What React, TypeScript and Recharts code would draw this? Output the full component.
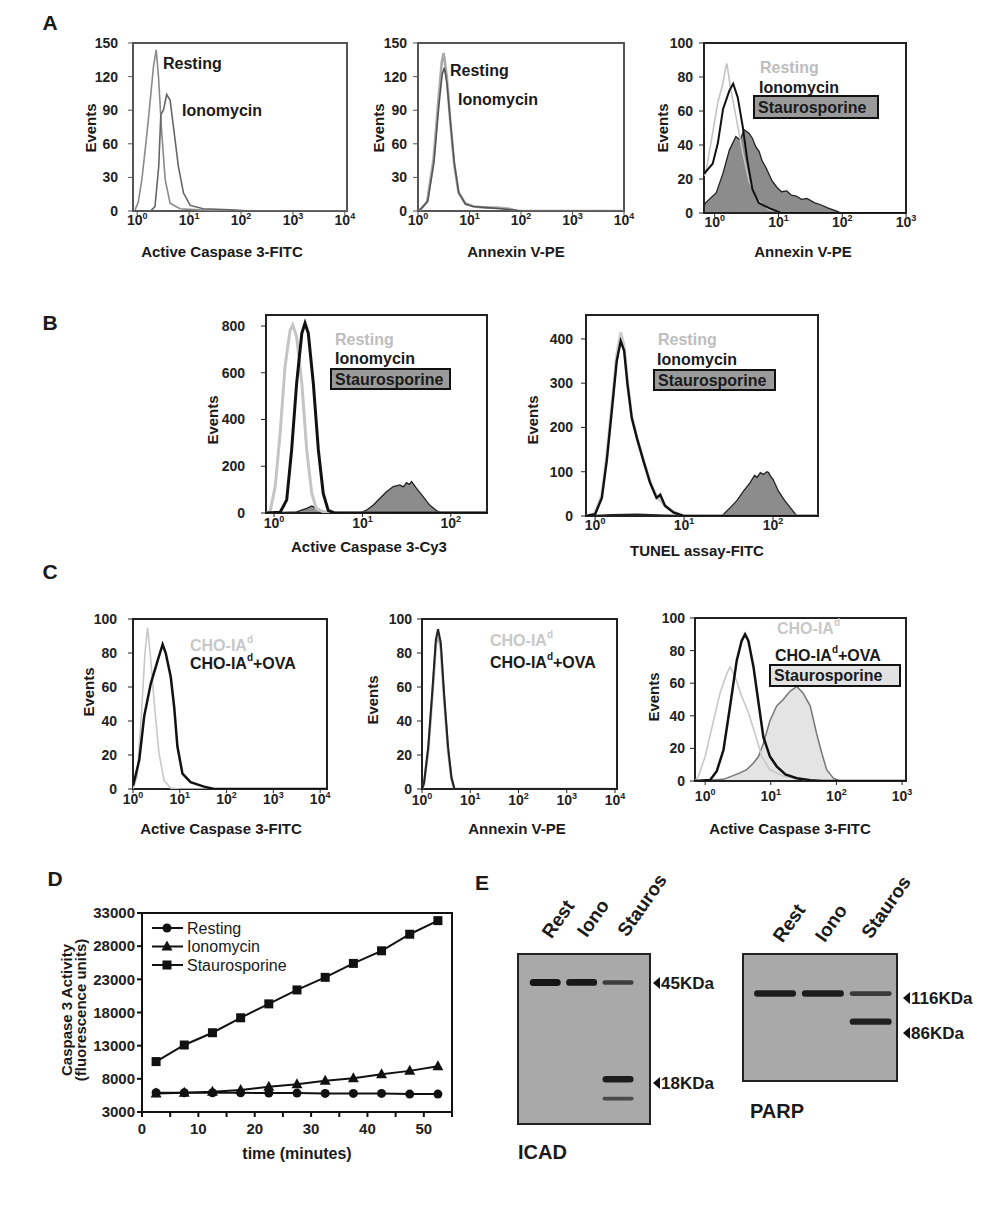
import React from 'react';
import { ComposedChart, LineChart, ScatterChart, Line, Area, Scatter, XAxis, YAxis, ReferenceArea } from 'recharts';

const FONT = '"Liberation Sans", Arial, Helvetica, sans-serif';

// ---- panel A (x = fluorescence, y = events) ----
const a1Resting = [[0.91, 1], [1.05, 8], [1.23, 28], [1.45, 58], [1.66, 84], [2.06, 129], [2.32, 144], [2.57, 120], [2.98, 69], [3.46, 28], [4.3, 7], [6.7, 2], [15, 1], [40, 0.5], [200, 0], [11000, 0]];
const a1Iono = [[1.8, 0], [2.2, 4], [2.6, 40], [2.85, 86], [3.2, 90], [3.7, 104], [4.3, 99], [5.0, 75], [6.2, 40], [7.8, 16], [10.5, 5], [18.6, 2], [62, 1], [150, 0], [11000, 0]];

const a2Resting = [[1, 0], [1.1, 1], [1.5, 8], [2.0, 46], [2.5, 100], [2.9, 133], [3.15, 141], [3.6, 121], [4.2, 82], [5.0, 43], [6.1, 17], [8.2, 7], [11.9, 4], [20, 3], [34, 3], [60, 2], [83, 0], [10000, 0]];
const a2Iono = [[1, 0], [1.15, 2], [1.55, 9], [2.05, 44], [2.55, 95], [2.95, 122], [3.25, 128], [3.65, 114], [4.25, 80], [5.1, 42], [6.2, 16], [8.4, 6], [12, 4], [22, 3], [40, 2], [70, 1], [100, 0], [10000, 0]];

const a3Resting = [[0.68, 22], [0.72, 23], [0.89, 43], [1.12, 65], [1.34, 76], [1.5, 86], [1.55, 88], [1.8, 72], [2.15, 57], [2.7, 37], [3.45, 19], [4.6, 8], [7, 2], [12, 0], [1000, 0]];
const a3Iono = [[0.68, 23], [0.93, 29], [1.12, 41], [1.35, 61], [1.7, 72], [1.95, 76], [2.3, 68], [2.75, 51], [3.25, 31], [3.9, 14], [4.9, 6], [7, 3], [11, 0], [1000, 0]];
const a3Stauro = [[0.68, 4], [0.72, 6], [1.06, 12], [1.34, 23], [1.7, 37], [2.15, 45], [2.5, 43], [2.9, 49], [3.45, 47], [3.9, 44], [4.4, 39], [5.0, 36], [5.5, 31], [6.5, 26], [7.9, 19], [9.5, 15], [11.2, 12.5], [13.5, 13], [16, 10.5], [19, 10], [23, 8], [28, 8.5], [37, 6], [45, 5], [59, 3], [84, 1], [95, 0], [1000, 0]];

// ---- panel B ----
const b1Resting = [[0.81, 0], [0.9, 5], [1.03, 113], [1.17, 341], [1.33, 626], [1.52, 783], [1.63, 804], [1.8, 754], [2.06, 555], [2.34, 270], [2.67, 84], [3.0, 20], [3.6, 5], [4.5, 0], [257, 0]];
const b1Iono = [[0.81, 0], [1.17, 3], [1.39, 56], [1.58, 270], [1.8, 555], [2.06, 769], [2.24, 812], [2.44, 769], [2.78, 555], [3.17, 270], [3.6, 84], [4.1, 11], [4.8, 0], [257, 0]];
const b1Stauro = [[0.81, 0], [1.8, 5], [2.34, 20], [2.67, 30], [3.0, 20], [3.6, 2], [5.1, 0], [9.3, 0], [11, 11], [13.3, 34], [15.8, 63], [18.7, 91], [22.3, 113], [26.5, 120], [29, 112], [31.6, 130], [34, 122], [36, 134], [40.8, 106], [48.7, 70], [57.6, 34], [69, 10], [78, 0], [257, 0]];

const b2Resting = [[0.79, 0], [1.0, 6], [1.19, 48], [1.35, 135], [1.54, 250], [1.75, 365], [1.94, 415], [2.12, 385], [2.31, 305], [2.58, 225], [2.94, 178], [3.5, 125], [4.15, 78], [4.9, 44], [6.1, 24], [7.6, 9], [10, 0], [320, 0]];
const b2Iono = [[0.79, 0], [1.0, 4], [1.19, 41], [1.35, 124], [1.54, 237], [1.75, 350], [1.94, 395], [2.12, 373], [2.31, 298], [2.58, 222], [2.94, 177], [3.5, 124], [4.15, 75], [4.9, 41], [5.4, 48], [6.1, 23], [7.6, 8], [9.8, 0], [320, 0]];
const b2Stauro = [[0.79, 0], [1.5, 3], [3, 4], [6, 2], [12, 1], [26.6, 0], [33, 19], [39, 34], [46.5, 56], [55, 75], [62, 92], [66, 87], [72, 98], [78, 94], [85, 100], [89, 98], [95, 88], [100, 83], [115, 56], [136, 34], [162, 15], [185, 0], [320, 0]];

// ---- panel C ----
const c1Cho = [[1.0, 0], [1.22, 7], [1.53, 46], [1.8, 80], [2.05, 95], [2.4, 76], [2.94, 46], [3.6, 21], [4.6, 5], [6.4, 0.5], [10, 0], [14000, 0]];
const c1Ova = [[1.0, 2], [1.07, 5], [1.36, 17], [1.74, 43], [2.4, 62], [3.4, 76], [4.3, 85], [5.0, 80], [6.4, 66], [7.6, 48], [8.9, 25], [11.4, 9], [17, 4], [33, 1.4], [54, 0], [14000, 0]];

const c2Cho = [[1, 0], [1.1, 3], [1.35, 23], [1.66, 57], [1.94, 85], [2.15, 91], [2.45, 83], [2.87, 53], [3.46, 23], [4.07, 6], [4.7, 0], [11000, 0]];
const c2Ova = [[1, 0], [1.1, 3.5], [1.35, 25], [1.66, 60], [1.94, 88], [2.15, 94], [2.45, 86], [2.87, 56], [3.46, 25], [4.07, 7], [4.7, 0], [11000, 0]];

const c3Cho = [[0.7, 0], [0.79, 3], [1.0, 15], [1.34, 37], [1.69, 54], [2.14, 66], [2.4, 70], [2.86, 64], [3.6, 52], [4.56, 42], [5.76, 29], [7.3, 15], [9.7, 7], [15.5, 3], [31, 1], [50, 0], [1150, 0]];
const c3Ova = [[0.7, 0], [1.19, 0.6], [1.5, 6], [1.9, 19], [2.4, 46], [3.03, 74], [3.6, 86], [4.06, 90], [4.56, 86], [5.45, 70], [6.5, 48], [7.7, 27], [9.7, 15], [12.3, 9], [16.7, 4], [24.9, 1.7], [40, 0.5], [60, 0], [1150, 0]];
const c3Stauro = [[0.7, 0], [1.9, 1], [3.4, 5], [4.3, 7], [5.45, 11], [6.5, 15], [7.7, 23], [9.7, 37], [12.3, 46], [15.5, 50], [19.6, 55], [24.9, 58], [31, 54], [40, 46], [50, 29], [60, 17], [71, 7], [90, 1.7], [113, 0], [1150, 0]];

// ---- panel D ----
const dTimes = [2.5, 7.5, 12.5, 17.5, 22.5, 27.5, 32.5, 37.5, 42.5, 47.5, 52.5];
const dResting = [5900, 5900, 5900, 5900, 5850, 5850, 5800, 5800, 5800, 5700, 5700];
const dIono = [5800, 5900, 6050, 6300, 6800, 7200, 7700, 8100, 8700, 9200, 9900];
const dStauro = [10600, 13100, 14950, 17200, 19300, 21400, 23300, 25400, 27300, 29800, 31850];
const dYTicks = [3000, 8000, 13000, 18000, 23000, 28000, 33000];
const dXTicks = [0, 5, 10, 15, 20, 25, 30, 35, 40, 45, 50, 55];

// ---- panel E (lane, kDa, intensity) ----
const icadBands = [[1, 45, 1.0], [2, 45, 0.95], [3, 45, 0.5], [3, 18, 0.9], [3, 15, 0.35]];
const parpBands = [[1, 116, 0.9], [2, 116, 0.9], [3, 116, 0.55], [3, 86, 0.85]];

const pts = (arr: number[][]) => arr.map(([x, y]) => ({ x, y }));

const PowTick = (props: any) => {
  const { x, y, payload } = props;
  const e = Math.round(Math.log10(payload.value));
  return (
    <text x={x} y={y + 10} textAnchor="middle" fontSize={14} fontWeight={700} fill="#222" fontFamily={FONT}>
      <tspan>10</tspan>
      <tspan dy={-6} fontSize={9}>{e}</tspan>
    </text>
  );
};

type Series = { data: number[][]; kind: 'line' | 'area'; stroke: string; width: number; fill?: string };

const AXW = 60;
const PAD = 8;
const RPAD = 20;
const AXH = 30;

const Hist = ({ box, xDomain, xTicks, yDomain, yTicks, series, boxColor = '#222', yGap = 11, xGap = 0 }: any) => {
  const w = AXW + box.w + RPAD;
  const h = PAD + box.h + AXH;
  return (
    <div style={{ position: 'absolute', left: box.x - AXW, top: box.y - PAD }}>
      <ComposedChart width={w} height={h} margin={{ top: PAD, right: RPAD, bottom: 0, left: 0 }}>
        <XAxis type="number" dataKey="x" scale="log" domain={xDomain} ticks={xTicks} allowDataOverflow interval={0}
          axisLine={false} tickLine={{ stroke: boxColor }} tickSize={4} tickMargin={xGap} height={AXH}
          tick={(p: any) => <PowTick {...p} />} />
        <YAxis type="number" domain={yDomain} ticks={yTicks} allowDataOverflow interval={0} width={AXW}
          axisLine={false} tickLine={{ stroke: boxColor }} tickSize={5} tickMargin={yGap - 5}
          tick={{ fontSize: 14, fontWeight: 700, fill: '#222', fontFamily: FONT }} />
        {(series as Series[]).map((s, i) =>
          s.kind === 'area' ? (
            <Area key={i} data={pts(s.data)} dataKey="y" type="linear" stroke={s.stroke} strokeWidth={s.width}
              fill={s.fill} fillOpacity={1} dot={false} activeDot={false} isAnimationActive={false} />
          ) : (
            <Line key={i} data={pts(s.data)} dataKey="y" type="linear" stroke={s.stroke} strokeWidth={s.width}
              dot={false} activeDot={false} isAnimationActive={false} />
          )
        )}
        <ReferenceArea x1={xDomain[0]} x2={xDomain[1]} y1={yDomain[0]} y2={yDomain[1]}
          fill="none" stroke={boxColor} strokeWidth={2} ifOverflow="visible" />
      </ComposedChart>
    </div>
  );
};

const Dot = ({ cx, cy, kind }: any) => {
  if (cx == null || cy == null) return null;
  if (kind === 'circle') return <circle cx={cx} cy={cy} r={4.5} fill="#111" />;
  if (kind === 'tri') return <polygon points={`${cx},${cy - 6} ${cx - 5.5},${cy + 4} ${cx + 5.5},${cy + 4}`} fill="#111" />;
  return <rect x={cx - 4.5} y={cy - 4.5} width={9} height={9} fill="#111" />;
};

const dRows = dTimes.map((t, i) => ({ t, resting: dResting[i], iono: dIono[i], stauro: dStauro[i] }));

const CaspaseChart = () => {
  const box = { x: 142, y: 913, w: 310, h: 199 };
  const yw = 70;
  return (
    <div style={{ position: 'absolute', left: box.x - yw, top: box.y - PAD }}>
      <LineChart width={yw + box.w + PAD} height={PAD + box.h + 34} data={dRows}
        margin={{ top: PAD, right: PAD, bottom: 0, left: 0 }}>
        <XAxis type="number" dataKey="t" domain={[0, 55]} ticks={dXTicks} interval={0} allowDataOverflow
          axisLine={false} tickLine={{ stroke: '#111', strokeWidth: 2 }} tickSize={5} tickMargin={6} height={34}
          tickFormatter={(v: number) => (v % 10 === 0 ? String(v) : '')}
          tick={{ fontSize: 15, fontWeight: 700, fill: '#222', fontFamily: FONT }} />
        <YAxis type="number" domain={[3000, 33000]} ticks={dYTicks} interval={0} allowDataOverflow width={yw}
          axisLine={false} tickLine={{ stroke: '#111', strokeWidth: 2 }} tickSize={5} tickMargin={2}
          tick={{ fontSize: 15, fontWeight: 700, fill: '#222', fontFamily: FONT }} />
        <ReferenceArea x1={0} x2={55} y1={3000} y2={33000} fill="none" stroke="#111" strokeWidth={2} ifOverflow="visible" />
        <Line dataKey="resting" stroke="#111" strokeWidth={2} isAnimationActive={false}
          dot={(p: any) => <Dot key={`r${p.index}`} cx={p.cx} cy={p.cy} kind="circle" />} activeDot={false} />
        <Line dataKey="iono" stroke="#111" strokeWidth={2} isAnimationActive={false}
          dot={(p: any) => <Dot key={`i${p.index}`} cx={p.cx} cy={p.cy} kind="tri" />} activeDot={false} />
        <Line dataKey="stauro" stroke="#111" strokeWidth={2} isAnimationActive={false}
          dot={(p: any) => <Dot key={`s${p.index}`} cx={p.cx} cy={p.cy} kind="sq" />} activeDot={false} />
      </LineChart>
    </div>
  );
};

const Blot = ({ box, bands, laneDomain, kdaDomain, bandW }: any) => {
  const rows = bands.map(([lane, kda, intensity]: number[]) => ({ lane, kda, intensity }));
  const shape = (p: any) => {
    const it = p.payload.intensity;
    const bh = 2 + 5 * it;
    return <rect x={p.cx - bandW / 2} y={p.cy - bh / 2} width={bandW} height={bh} rx={bh / 2}
      fill="#151515" fillOpacity={0.45 + 0.55 * it} />;
  };
  return (
    <div style={{ position: 'absolute', left: box.x, top: box.y, width: box.w, height: box.h, boxSizing: 'border-box',
      border: '2px solid #222', background: '#a9a9a9' }}>
      <ScatterChart width={box.w - 4} height={box.h - 4} margin={{ top: 0, right: 0, bottom: 0, left: 0 }}>
        <XAxis type="number" dataKey="lane" domain={laneDomain} hide allowDataOverflow height={0} />
        <YAxis type="number" dataKey="kda" scale="log" domain={kdaDomain} hide allowDataOverflow width={0} />
        <Scatter data={rows} shape={shape} isAnimationActive={false} />
      </ScatterChart>
    </div>
  );
};

const T = ({ x, y, children, size = 16, weight = 700, anchor = 'start', fill = '#1a1a1a', rotate = 0 }: any) => (
  <text x={x} y={y} fontSize={size} fontWeight={weight} textAnchor={anchor} dominantBaseline="central" fill={fill}
    fontFamily={FONT} transform={rotate ? `rotate(${rotate} ${x} ${y})` : undefined}>{children}</text>
);

const Boxed = ({ x, y, w, h, fill }: any) => (
  <g>
    <rect x={x} y={y} width={w} height={h} fill={fill} stroke="#111" strokeWidth={2} />
    <T x={x + 4} y={y + h / 2}>Staurosporine</T>
  </g>
);

const Cho = ({ x, y, ova, fill }: any) => (
  <text x={x} y={y} fontSize={16} fontWeight={700} dominantBaseline="central" fill={fill} fontFamily={FONT}>
    CHO-IA<tspan dy={-6} fontSize={10}>d</tspan>
    {ova ? <tspan dy={6}>+OVA</tspan> : null}
  </text>
);

const Marker = ({ x, y, label }: any) => (
  <g>
    <polygon points={`${x},${y} ${x + 7},${y - 6} ${x + 7},${y + 6}`} fill="#111" />
    <T x={x + 8} y={y} size={17}>{label}</T>
  </g>
);

const Overlay = () => (
  <svg width={1008} height={1232} style={{ position: 'absolute', left: 0, top: 0, pointerEvents: 'none' }}>
    {/* panel letters */}
    <T x={50} y={22} size={21} anchor="middle">A</T>
    <T x={50} y={322} size={21} anchor="middle">B</T>
    <T x={50} y={571} size={21} anchor="middle">C</T>
    <T x={55} y={878} size={21} anchor="middle">D</T>
    <T x={482} y={882} size={21} anchor="middle">E</T>

    {/* y titles */}
    {[[90, 128], [378, 128], [662, 128], [212, 420], [532, 420], [88, 692], [372, 700], [653, 697]].map(([x, y], i) => (
      <T key={i} x={x} y={y} size={15} anchor="middle" rotate={-90}>Events</T>
    ))}

    {/* x titles */}
    <T x={222} y={251} size={15} anchor="middle">Active Caspase 3-FITC</T>
    <T x={516} y={251} size={15} anchor="middle">Annexin V-PE</T>
    <T x={803} y={251} size={15} anchor="middle">Annexin V-PE</T>
    <T x={369} y={546} size={15} anchor="middle">Active Caspase 3-Cy3</T>
    <T x={697} y={550} size={15} anchor="middle">TUNEL assay-FITC</T>
    <T x={221} y={828} size={15} anchor="middle">Active Caspase 3-FITC</T>
    <T x={517} y={828} size={15} anchor="middle">Annexin V-PE</T>
    <T x={790} y={828} size={15} anchor="middle">Active Caspase 3-FITC</T>

    {/* A annotations */}
    <T x={163} y={63}>Resting</T>
    <T x={182} y={110}>Ionomycin</T>
    <T x={450} y={70}>Resting</T>
    <T x={458} y={99}>Ionomycin</T>
    <T x={760} y={67} fill="#bdbdbd">Resting</T>
    <T x={759} y={87}>Ionomycin</T>
    <Boxed x={754} y={96} w={124} h={22} fill="#9a9a9a" />

    {/* B annotations */}
    <T x={335} y={339} fill="#bdbdbd">Resting</T>
    <T x={335} y={358}>Ionomycin</T>
    <Boxed x={331} y={369} w={119} h={20} fill="#9a9a9a" />
    <T x={658} y={339} fill="#bdbdbd">Resting</T>
    <T x={657} y={359}>Ionomycin</T>
    <Boxed x={654} y={370} w={121} h={20} fill="#9a9a9a" />

    {/* C annotations */}
    <Cho x={190} y={645} fill="#c8c8c8" />
    <Cho x={190} y={663} ova fill="#1a1a1a" />
    <Cho x={490} y={640} fill="#c8c8c8" />
    <Cho x={490} y={662} ova fill="#1a1a1a" />
    <Cho x={777} y={628} fill="#c8c8c8" />
    <Cho x={775} y={655} ova fill="#1a1a1a" />
    <Boxed x={770} y={665} w={130} h={21} fill="#e2e2e2" />

    {/* D titles and legend */}
    <T x={66} y={1010} size={15} anchor="middle" rotate={-90}>Caspase 3 Activity</T>
    <T x={80} y={1010} size={15} anchor="middle" rotate={-90}>(fluorescence units)</T>
    <T x={297} y={1153} size={16} anchor="middle">time (minutes)</T>
    {[['circle', 'Resting'], ['tri', 'Ionomycin'], ['sq', 'Staurosporine']].map(([k, label], i) => (
      <g key={k}>
        <line x1={152} x2={183} y1={928 + i * 18.5} y2={928 + i * 18.5} stroke="#111" strokeWidth={2} />
        <Dot cx={167} cy={928 + i * 18.5} kind={k} />
        <T x={187} y={928 + i * 18.5} weight={400}>{label}</T>
      </g>
    ))}

    {/* E labels */}
    <T x={558} y={919} size={19} anchor="middle" rotate={-55}>Rest</T>
    <T x={593} y={918} size={19} anchor="middle" rotate={-55}>Iono</T>
    <T x={642} y={905} size={19} anchor="middle" rotate={-55}>Stauros</T>
    <T x={789} y={923} size={19} anchor="middle" rotate={-55}>Rest</T>
    <T x={831} y={923} size={19} anchor="middle" rotate={-55}>Iono</T>
    <T x={886} y={907} size={19} anchor="middle" rotate={-55}>Stauros</T>
    <Marker x={653} y={983} label="45KDa" />
    <Marker x={653} y={1083} label="18KDa" />
    <Marker x={903} y={998} label="116KDa" />
    <Marker x={903} y={1033} label="86KDa" />
    <T x={518} y={1152} size={20}>ICAD</T>
    <T x={750} y={1111} size={20}>PARP</T>
  </svg>
);

const log4 = [1, 10, 100, 1000, 10000];
const log3 = [1, 10, 100, 1000];
const log2 = [1, 10, 100];

export default function App() {
  return (
    <div style={{ position: 'absolute', left: 0, top: 0, width: 1008, height: 1232, background: '#fff', fontFamily: FONT }}>
      <Hist box={{ x: 133, y: 43, w: 214, h: 168 }} xDomain={[0.83, 11000]} xTicks={log4} yDomain={[0, 150]}
        yTicks={[0, 30, 60, 90, 120, 150]} boxColor="#555" yGap={15}
        series={[
          { data: a1Resting, kind: 'line', stroke: '#8a8a8a', width: 1.6 },
          { data: a1Iono, kind: 'line', stroke: '#666', width: 1.6 },
        ]} />
      <Hist box={{ x: 418, y: 43, w: 206, h: 168 }} xDomain={[1, 10000]} xTicks={log4} yDomain={[0, 150]}
        yTicks={[0, 30, 60, 90, 120, 150]} boxColor="#555"
        series={[
          { data: a2Resting, kind: 'line', stroke: '#aaa', width: 2.6 },
          { data: a2Iono, kind: 'line', stroke: '#555', width: 1.6 },
        ]} />
      <Hist box={{ x: 704, y: 43, w: 202, h: 170 }} xDomain={[0.68, 1000]} xTicks={log3} yDomain={[0, 100]}
        yTicks={[0, 20, 40, 60, 80, 100]}
        series={[
          { data: a3Stauro, kind: 'area', stroke: '#222', width: 1.3, fill: '#8c8c8c' },
          { data: a3Resting, kind: 'line', stroke: '#c4c4c4', width: 1.6 },
          { data: a3Iono, kind: 'line', stroke: '#111', width: 2 },
        ]} />

      <Hist box={{ x: 266, y: 315, w: 221, h: 198 }} xDomain={[0.81, 257]} xTicks={log2} yDomain={[0, 847]}
        yTicks={[0, 200, 400, 600, 800]} yGap={21} xGap={1}
        series={[
          { data: b1Stauro, kind: 'area', stroke: '#222', width: 1.3, fill: '#8c8c8c' },
          { data: b1Resting, kind: 'line', stroke: '#c4c4c4', width: 3 },
          { data: b1Iono, kind: 'line', stroke: '#111', width: 3 },
        ]} />
      <Hist box={{ x: 586, y: 315, w: 232, h: 201 }} xDomain={[0.79, 320]} xTicks={log2} yDomain={[0, 454]}
        yTicks={[0, 100, 200, 300, 400]} yGap={13}
        series={[
          { data: b2Stauro, kind: 'area', stroke: '#222', width: 1.3, fill: '#8c8c8c' },
          { data: b2Resting, kind: 'line', stroke: '#cfcfcf', width: 3 },
          { data: b2Iono, kind: 'line', stroke: '#111', width: 2.4 },
        ]} />

      <Hist box={{ x: 133, y: 619, w: 194, h: 170 }} xDomain={[1, 14000]} xTicks={log4} yDomain={[0, 100]}
        yTicks={[0, 20, 40, 60, 80, 100]} yGap={16} xGap={1}
        series={[
          { data: c1Cho, kind: 'line', stroke: '#c8c8c8', width: 1.6 },
          { data: c1Ova, kind: 'line', stroke: '#111', width: 2.5 },
        ]} />
      <Hist box={{ x: 422, y: 619, w: 195, h: 170 }} xDomain={[1, 11000]} xTicks={log4} yDomain={[0, 100]}
        yTicks={[0, 20, 40, 60, 80, 100]} yGap={10} xGap={2}
        series={[
          { data: c2Cho, kind: 'line', stroke: '#aaa', width: 2.5 },
          { data: c2Ova, kind: 'line', stroke: '#222', width: 2 },
        ]} />
      <Hist box={{ x: 695, y: 618, w: 211, h: 163 }} xDomain={[0.7, 1150]} xTicks={log3} yDomain={[0, 100]}
        yTicks={[0, 20, 40, 60, 80, 100]} yGap={10} xGap={6}
        series={[
          { data: c3Stauro, kind: 'area', stroke: '#777', width: 1.5, fill: '#e4e4e4' },
          { data: c3Cho, kind: 'line', stroke: '#c8c8c8', width: 1.6 },
          { data: c3Ova, kind: 'line', stroke: '#111', width: 2.5 },
        ]} />

      <CaspaseChart />

      <Blot box={{ x: 517, y: 953, w: 134, h: 172 }} bands={icadBands} laneDomain={[0.28, 3.85]}
        kdaDomain={[11.9, 58.3]} bandW={31} />
      <Blot box={{ x: 742, y: 953, w: 156, h: 129 }} bands={parpBands} laneDomain={[0.35, 3.53]}
        kdaDomain={[46.2, 175]} bandW={42} />

      <Overlay />
    </div>
  );
}
